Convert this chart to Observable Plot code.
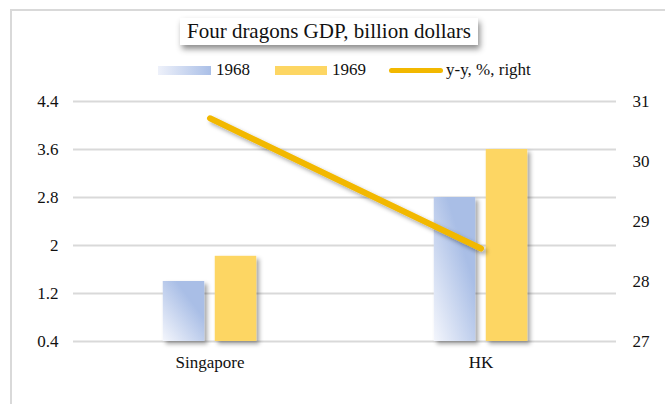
<!DOCTYPE html>
<html>
<head>
<meta charset="utf-8">
<script src="https://cdn.jsdelivr.net/npm/d3@7"></script>
<script src="https://cdn.jsdelivr.net/npm/@observablehq/plot@0.6"></script>
<style>
  html, body { margin: 0; padding: 0; background: #fff; }
  body { font-family: "Liberation Serif", "Times New Roman", serif; }
  #wrap { position: relative; width: 665px; height: 404px; overflow: hidden; }
  #frame { position: absolute; left: 10px; top: 9px; width: 700px; height: 450px;
           border-left: 2px solid #d9d9d9; border-top: 2px solid #d9d9d9; box-sizing: border-box; }
  #title { position: absolute; left: 180px; top: 18px; width: 298px; height: 27px; background: #fff;
           box-shadow: 2px 4px 6px rgba(0,0,0,0.45); font-size: 21px; line-height: 27px; text-align: center; color: #111; z-index: 2; }
  #legend { position: absolute; left: 0; top: 58px; width: 665px; height: 24px; font-size: 17px; color: #111; z-index: 2; }
  .item { position: absolute; top: 0; display: flex; align-items: center; height: 24px; }
  .sw { display: inline-block; margin-right: 5px; }
  #chart { position: absolute; left: 0; top: 0; }
  #chart svg, #chart svg text { font-family: "Liberation Serif", "Times New Roman", serif !important; }
</style>
</head>
<body>
<svg width="0" height="0" style="position:absolute">
  <defs>
    <linearGradient id="g1968" x1="0" y1="1" x2="0.65" y2="0.3">
      <stop offset="0" stop-color="#f4f6fc"/>
      <stop offset="1" stop-color="#a9bee6"/>
    </linearGradient>
    <filter id="shadow" x="-30%" y="-30%" width="160%" height="160%">
      <feDropShadow dx="3" dy="3" stdDeviation="2" flood-color="#000" flood-opacity="0.35"/>
    </filter>
  </defs>
</svg>
<div id="wrap">
  <div id="frame"></div>
  <div id="title">Four dragons GDP, billion dollars</div>
  <div id="legend"></div>
  <div id="chart"></div>
</div>
<script>
const categories = ["Singapore", "HK"];
const series = ["1968", "1969", "y-y, %, right"];
const gdp1968 = [1.4, 2.8];
const gdp1969 = [1.82, 3.6];
const yoy = [30.72, 28.55];
const leftTicks = [0.4, 1.2, 2, 2.8, 3.6, 4.4];
const rightTicks = [27, 28, 29, 30, 31];

const toLeft = d3.scaleLinear().domain([rightTicks[0], rightTicks[rightTicks.length - 1]])
  .range([leftTicks[0], leftTicks[leftTicks.length - 1]]);

const bars68 = categories.map((c, i) => ({cat: c, v: gdp1968[i]}));
const bars69 = categories.map((c, i) => ({cat: c, v: gdp1969[i]}));
const line = categories.map((c, i) => ({cat: c, v: toLeft(yoy[i])}));
const base = leftTicks[0];

const W = 665, H = 404;
const mL = 73, mR = 49, mT = 101, mB = 63;
const band = (W - mL - mR) / categories.length;
const barW = 42, gap = 10;
const inset = (band - barW) / 2;
const off = (barW + gap) / 2;
const fs = 17;

const plot = Plot.plot({
  width: W, height: H,
  marginLeft: mL, marginRight: mR, marginTop: mT, marginBottom: mB,
  style: {fontFamily: "'Liberation Serif', 'Times New Roman', serif", fontSize: fs + "px", color: "#111", background: "transparent"},
  x: {domain: categories, padding: 0, label: null},
  y: {domain: [leftTicks[0], leftTicks[leftTicks.length - 1]], label: null},
  marks: [
    Plot.ruleY(leftTicks, {stroke: "#d9d9d9", strokeWidth: 2}),
    Plot.axisY({ticks: leftTicks, tickSize: 0, tickPadding: 15, fontSize: fs, tickFormat: d => d3.format("~g")(d), label: null, anchor: "left"}),
    Plot.axisY({ticks: rightTicks.map(toLeft), tickSize: 0, tickPadding: 16, fontSize: fs, tickFormat: d => String(Math.round(toLeft.invert(d))), label: null, anchor: "right", textAnchor: "start"}),
    Plot.axisX({tickSize: 0, tickPadding: 14, fontSize: fs, label: null}),
    Plot.barY(bars68, {x: "cat", y1: () => base, y2: "v", fill: "url(#g1968)", insetLeft: inset, insetRight: inset, dx: -off}),
    Plot.barY(bars69, {x: "cat", y1: () => base, y2: "v", fill: "#fdd663", insetLeft: inset, insetRight: inset, dx: off}),
    Plot.line(line, {x: "cat", y: "v", stroke: "#f2b800", strokeWidth: 6, strokeLinecap: "round"})
  ]
});
plot.querySelectorAll('g[aria-label="bar"], g[aria-label="line"]').forEach(g => g.setAttribute("filter", "url(#shadow)"));
plot.querySelectorAll('text').forEach(t => t.style.fontFamily = "'Liberation Serif', 'Times New Roman', serif");
document.getElementById("chart").appendChild(plot);

// legend
const lg = document.getElementById("legend");
const items = [
  {left: 158, sw: '<span class="sw" style="width:53px;height:9px;background:linear-gradient(to right,#eef1fa,#aabfe7)"></span>'},
  {left: 275, sw: '<span class="sw" style="width:52px;height:9px;background:#fdd663"></span>'},
  {left: 389, sw: '<span class="sw" style="width:54px;height:5px;border-radius:3px;background:#f2b800;margin-right:3px"></span>'}
];
items.forEach((it, i) => {
  const d = document.createElement("div");
  d.className = "item";
  d.style.left = it.left + "px";
  d.innerHTML = it.sw + "<span>" + series[i] + "</span>";
  lg.appendChild(d);
});
</script>
</body>
</html>
